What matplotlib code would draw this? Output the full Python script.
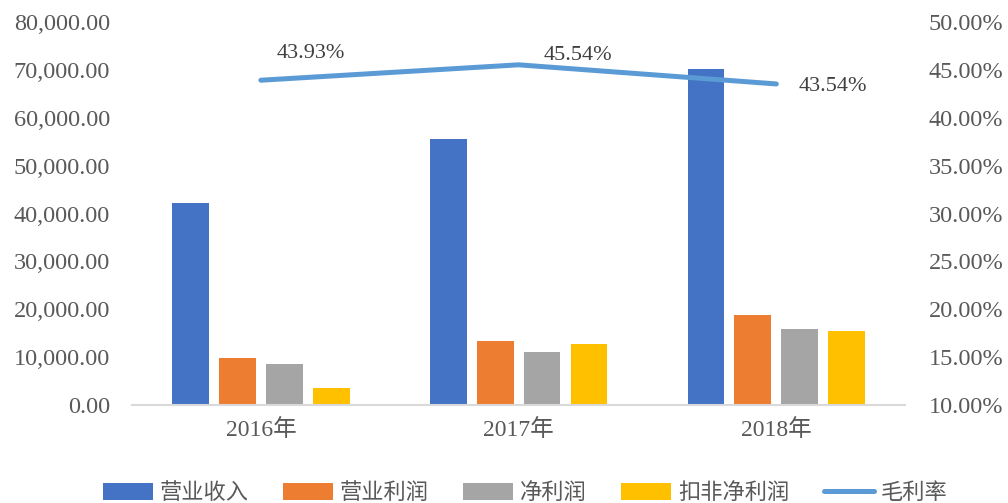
import numpy as np
import matplotlib
matplotlib.use("Agg")
import matplotlib.pyplot as plt
from matplotlib.ticker import FuncFormatter

SERIF = ["Liberation Serif", "Noto Sans CJK SC"]
CJK = ["Noto Sans CJK SC", "DejaVu Sans"]
TXT = "#595959"

# ── Datos ────────────────────────────────────────────────────────────────────
years = ["2016年", "2017年", "2018年"]
revenue = [42130, 55500, 70180]          # 营业收入
op_profit = [9880, 13430, 18730]         # 营业利润
net_profit = [8500, 11000, 15940]        # 净利润
net_profit_adj = [3610, 12740, 15520]    # 扣非净利润
gross_margin = [43.93, 45.54, 43.54]     # 毛利率 (%)

series = [
    ("营业收入", revenue, "#4472C4"),
    ("营业利润", op_profit, "#ED7D31"),
    ("净利润", net_profit, "#A5A5A5"),
    ("扣非净利润", net_profit_adj, "#FFC000"),
]

# ── Figura ───────────────────────────────────────────────────────────────────
fig = plt.figure(figsize=(10.08, 5.03), dpi=100)
ax = fig.add_axes([0.131, 0.195, 0.767, 0.761])
ax2 = ax.twinx()

x = np.arange(len(years))
w = 0.143
step = 0.182
for i, (name, vals, col) in enumerate(series):
    ax.bar(x + (i - 1.5) * step, vals, width=w, color=col, label=name, zorder=2)

ax.set_xlim(-0.5, 2.5)
ax.set_ylim(0, 80000)
ax.set_yticks(np.arange(0, 80001, 10000))
ax.yaxis.set_major_formatter(FuncFormatter(lambda v, p: f"{v:,.2f}"))
ax.set_xticks(x)
ax.set_xticklabels(years)

ln, = ax2.plot(x, gross_margin, color="#5B9BD5", linewidth=3.6,
               solid_capstyle="round", label="毛利率", zorder=3)
ax2.set_ylim(10, 50)
ax2.set_yticks(np.arange(10, 50.1, 5))
ax2.yaxis.set_major_formatter(FuncFormatter(lambda v, p: f"{v:.2f}%"))

offsets = [(36, 19), (43, 7), (41, -2)]
for xi, yi, off in zip(x, gross_margin, offsets):
    ax2.annotate(f"{yi:.2f}%", xy=(xi, yi), xytext=off, textcoords="offset points",
                 ha="center", va="center", fontsize=16, color="#404040",
                 family=SERIF)

for a in (ax, ax2):
    for s in a.spines.values():
        s.set_visible(False)
    a.tick_params(length=0, colors=TXT)
ax.spines["bottom"].set_visible(True)
ax.spines["bottom"].set_color("#D9D9D9")
ax.spines["bottom"].set_linewidth(1.5)

for lab in ax.get_yticklabels() + ax2.get_yticklabels():
    lab.set_family(SERIF)
    lab.set_fontsize(17.5)
    lab.set_color(TXT)
for lab in ax.get_xticklabels():
    lab.set_family(SERIF)
    lab.set_fontsize(17)
    lab.set_color(TXT)
ax.tick_params(axis="y", pad=16)
ax2.tick_params(axis="y", pad=17)
ax.tick_params(axis="x", pad=10)

handles, labels = ax.get_legend_handles_labels()
handles.append(ln)
labels.append("毛利率")
leg = fig.legend(handles, labels, loc="center", bbox_to_anchor=(0.521, 0.02),
                 ncol=5, frameon=False, prop={"family": CJK, "size": 16},
                 handlelength=2.25, handleheight=0.8, handletextpad=0.3,
                 columnspacing=1.55)
for t in leg.get_texts():
    t.set_color(TXT)

fig.savefig("out.png", dpi=100)
plt.close(fig)
